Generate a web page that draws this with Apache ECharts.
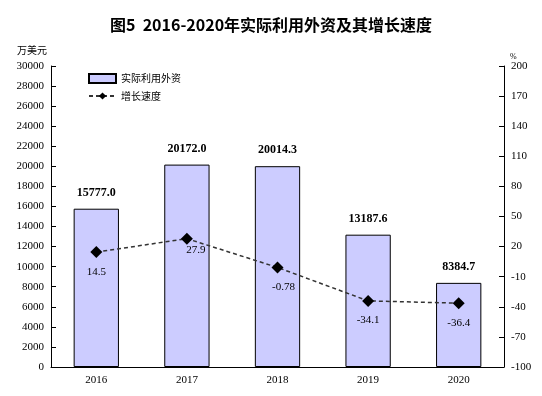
<!DOCTYPE html>
<html>
<head>
<meta charset="utf-8">
<script src="https://cdn.jsdelivr.net/npm/echarts@6/dist/echarts.min.js"></script>
<style>
    html, body { margin: 0; padding: 0; background: #fff; }
    #chart { width: 542px; height: 396px; }
</style>
</head>
<body>
<div id="chart"></div>
<script>
const years = ['2016', '2017', '2018', '2019', '2020'];
const foreignCapital = [15777.0, 20172.0, 20014.3, 13187.6, 8384.7];
const growthRate = [14.5, 27.9, -0.78, -34.1, -36.4];
const growthLabels = ['14.5', '27.9', '-0.78', '-34.1', '-36.4'];

const numFont = "'Liberation Serif', 'DejaVu Serif', serif";
const cjkFont = "'Noto Sans CJK SC', sans-serif";

// label nudges for the line (the 2017 one sits closer to its point)
const lineLabelOffsets = [[0, 0], [9, -8], [6, 0], [0, 0], [0, 0]];

const chart = echarts.init(document.getElementById('chart'));

chart.setOption({
    animation: false,
    title: {
        text: '图5  2016-2020年实际利用外资及其增长速度',
        left: 'center',
        top: 12,
        textStyle: { fontFamily: cjkFont, fontSize: 16, fontWeight: 'bold', color: '#000' }
    },
    legend: {
        orient: 'vertical',
        left: 83,
        top: 68,
        itemWidth: 27,
        itemHeight: 9,
        itemGap: 7,
        textStyle: { fontFamily: cjkFont, fontSize: 10, color: '#000' },
        data: [
            { name: '实际利用外资', icon: 'rect' },
            { name: '增长速度' }
        ]
    },
    grid: { left: 51, right: 38, top: 66, bottom: 29 },
    xAxis: {
        type: 'category',
        data: years,
        axisLine: { lineStyle: { color: '#000', width: 1 } },
        axisTick: { show: false },
        axisLabel: { fontFamily: numFont, fontSize: 11, color: '#000', margin: 8 }
    },
    yAxis: [
        {
            type: 'value',
            name: '万美元',
            nameGap: 11,
            nameTextStyle: { fontFamily: cjkFont, fontSize: 10, color: '#000', align: 'right', padding: [0, 4, 0, 0] },
            min: 0,
            max: 30000,
            interval: 2000,
            splitLine: { show: false },
            axisLine: { show: true, lineStyle: { color: '#000' } },
            axisTick: { show: true, inside: true, length: 5, lineStyle: { color: '#000' } },
            axisLabel: { fontFamily: numFont, fontSize: 11, color: '#000', margin: 7, formatter: v => String(v) }
        },
        {
            type: 'value',
            name: '%',
            nameGap: 4,
            nameTextStyle: { fontFamily: numFont, fontSize: 8, color: '#000', align: 'left', padding: [0, 0, 0, 6] },
            min: -100,
            max: 200,
            interval: 30,
            splitLine: { show: false },
            axisLine: { show: true, lineStyle: { color: '#000' } },
            axisTick: { show: true, inside: true, length: 5, lineStyle: { color: '#000' } },
            axisLabel: { fontFamily: numFont, fontSize: 11, color: '#000', margin: 7, formatter: v => String(v) }
        }
    ],
    series: [
        {
            name: '实际利用外资',
            type: 'bar',
            barWidth: '50%',
            data: foreignCapital,
            itemStyle: { color: '#ccccff', borderColor: '#000', borderWidth: 1 },
            label: {
                show: true,
                position: 'top',
                distance: 10,
                fontFamily: numFont,
                fontSize: 12,
                fontWeight: 'bold',
                color: '#000',
                formatter: p => p.value.toFixed(1)
            }
        },
        {
            name: '增长速度',
            type: 'line',
            yAxisIndex: 1,
            data: growthRate.map((v, i) => ({
                value: v,
                label: { offset: lineLabelOffsets[i] }
            })),
            symbol: 'diamond',
            symbolSize: 12,
            itemStyle: { color: '#000' },
            lineStyle: { color: '#333', width: 1.5, type: [4, 3] },
            label: {
                show: true,
                position: 'bottom',
                distance: 8,
                fontFamily: numFont,
                fontSize: 11,
                color: '#000',
                formatter: p => growthLabels[p.dataIndex]
            },
            z: 5
        }
    ]
});
</script>
</body>
</html>
